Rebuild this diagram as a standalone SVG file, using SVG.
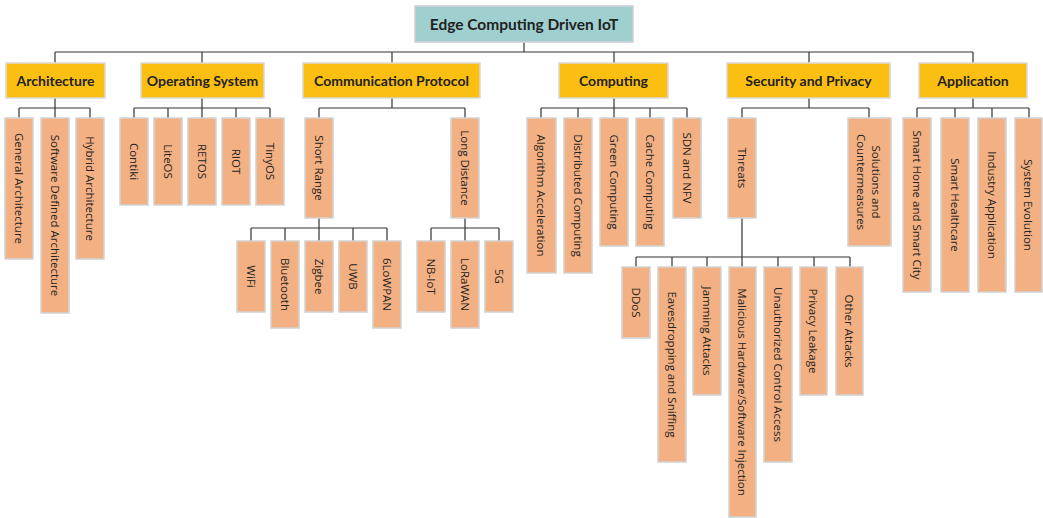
<svg xmlns="http://www.w3.org/2000/svg" width="1043" height="518" viewBox="0 0 1043 518">
<style>
.root{fill:#9fd0cf;stroke:#d0d0d0;stroke-width:1.5}
.cat{fill:#fbbf12;stroke:#d9d9d9;stroke-width:1.5}
.leaf{fill:#f3b183;stroke:#d2d2d2;stroke-width:1.5}
.tr{font-family:Lato,"Liberation Sans",sans-serif;font-weight:bold;font-size:15.5px;fill:#222;text-anchor:middle;dominant-baseline:central}
.tc{font-family:Lato,"Liberation Sans",sans-serif;font-weight:bold;font-size:14px;fill:#222;text-anchor:middle;dominant-baseline:central}
.tl{font-family:"Open Sans","Liberation Sans",sans-serif;font-size:11.5px;fill:#222;text-anchor:middle;dominant-baseline:central}
.conn path{fill:none;stroke:#333;stroke-width:1.2}
</style>
<rect width="1043" height="518" fill="#fff"/>
<g class="conn">
<path d="M524 42V52M55 52H973M55 52V63M202 52V63M392 52V63M614 52V63M809 52V63M973 52V63"/>
<path d="M55 98V108M19 108H90M19 108V118M55 108V118M90 108V118"/>
<path d="M202 98V108M134 108H270M134 108V118M168 108V118M202 108V118M236 108V118M270 108V118"/>
<path d="M392 98V108M319 108H465M319 108V118M465 108V118"/>
<path d="M319 218V228M251 228H387M251 228V241M285 228V241M319 228V241M353 228V241M387 228V241"/>
<path d="M465 218V228M431 228H499M431 228V241M465 228V241M499 228V241"/>
<path d="M614 98V108M541 108H687M541 108V118M578 108V118M614 108V118M650 108V118M687 108V118"/>
<path d="M809 98V108M742 108H869M742 108V118M869 108V118"/>
<path d="M742 218V257M636 257H850M636 257V267M672 257V267M707 257V267M742 257V267M778 257V267M814 257V267M850 257V267"/>
<path d="M973 98V108M917 108H1029M917 108V118M955 108V118M992 108V118M1029 108V118"/>
</g>
<g id="root"><rect class="root" x="415" y="6" width="218" height="36"/><text class="tr" x="524" y="24">Edge Computing Driven IoT</text></g>
<g id="architecture"><rect class="cat" x="6" y="63" width="99" height="35"/><text class="tc" x="55.5" y="80.5">Architecture</text></g>
<g id="os"><rect class="cat" x="141" y="63" width="123" height="35"/><text class="tc" x="202.5" y="80.5">Operating System</text></g>
<g id="comm"><rect class="cat" x="303" y="63" width="177" height="35"/><text class="tc" x="391.5" y="80.5">Communication Protocol</text></g>
<g id="computing"><rect class="cat" x="559" y="63" width="109" height="35"/><text class="tc" x="613.5" y="80.5">Computing</text></g>
<g id="security"><rect class="cat" x="727" y="63" width="163" height="35"/><text class="tc" x="808.5" y="80.5">Security and Privacy</text></g>
<g id="application"><rect class="cat" x="919" y="63" width="108" height="35"/><text class="tc" x="973" y="80.5">Application</text></g>

<g id="general-arch"><rect class="leaf" x="5" y="118" width="28" height="141"/><text class="tl" transform="translate(19 188.5) rotate(90)">General Architecture</text></g>
<g id="sd-arch"><rect class="leaf" x="41" y="118" width="28" height="195"/><text class="tl" transform="translate(55 215.5) rotate(90)">Software Defined Architecture</text></g>
<g id="hybrid-arch"><rect class="leaf" x="76" y="118" width="28" height="141"/><text class="tl" transform="translate(90 188.5) rotate(90)">Hybrid Architecture</text></g>

<g id="contiki"><rect class="leaf" x="120" y="118" width="28" height="87"/><text class="tl" transform="translate(134 161.5) rotate(90)">Contiki</text></g>
<g id="liteos"><rect class="leaf" x="154" y="118" width="28" height="87"/><text class="tl" transform="translate(168 161.5) rotate(90)">LiteOS</text></g>
<g id="retos"><rect class="leaf" x="188" y="118" width="28" height="87"/><text class="tl" transform="translate(202 161.5) rotate(90)">RETOS</text></g>
<g id="riot"><rect class="leaf" x="222" y="118" width="28" height="87"/><text class="tl" transform="translate(236 161.5) rotate(90)">RIOT</text></g>
<g id="tinyos"><rect class="leaf" x="256" y="118" width="28" height="87"/><text class="tl" transform="translate(270 161.5) rotate(90)">TinyOS</text></g>

<g id="short-range"><rect class="leaf" x="305" y="118" width="28" height="100"/><text class="tl" transform="translate(319 168) rotate(90)">Short Range</text></g>
<g id="long-distance"><rect class="leaf" x="451" y="118" width="28" height="100"/><text class="tl" transform="translate(465 168) rotate(90)">Long Distance</text></g>
<g id="wifi"><rect class="leaf" x="237" y="241" width="28" height="71"/><text class="tl" transform="translate(251 276.5) rotate(90)">WiFi</text></g>
<g id="bluetooth"><rect class="leaf" x="271" y="241" width="28" height="87"/><text class="tl" transform="translate(285 284.5) rotate(90)">Bluetooth</text></g>
<g id="zigbee"><rect class="leaf" x="305" y="241" width="28" height="71"/><text class="tl" transform="translate(319 276.5) rotate(90)">Zigbee</text></g>
<g id="uwb"><rect class="leaf" x="339" y="241" width="28" height="71"/><text class="tl" transform="translate(353 276.5) rotate(90)">UWB</text></g>
<g id="6lowpan"><rect class="leaf" x="373" y="241" width="28" height="87"/><text class="tl" transform="translate(387 284.5) rotate(90)">6LoWPAN</text></g>
<g id="nbiot"><rect class="leaf" x="417" y="241" width="28" height="71"/><text class="tl" transform="translate(431 276.5) rotate(90)">NB-IoT</text></g>
<g id="lorawan"><rect class="leaf" x="451" y="241" width="28" height="87"/><text class="tl" transform="translate(465 284.5) rotate(90)">LoRaWAN</text></g>
<g id="5g"><rect class="leaf" x="485" y="241" width="28" height="71"/><text class="tl" transform="translate(499 276.5) rotate(90)">5G</text></g>

<g id="algo-acc"><rect class="leaf" x="527" y="118" width="29" height="155"/><text class="tl" transform="translate(541.5 195.5) rotate(90)">Algorithm Acceleration</text></g>
<g id="dist-comp"><rect class="leaf" x="564" y="118" width="28" height="155"/><text class="tl" transform="translate(578 195.5) rotate(90)">Distributed Computing</text></g>
<g id="green-comp"><rect class="leaf" x="600" y="118" width="28" height="128"/><text class="tl" transform="translate(614 182) rotate(90)">Green Computing</text></g>
<g id="cache-comp"><rect class="leaf" x="636" y="118" width="28" height="128"/><text class="tl" transform="translate(650 182) rotate(90)">Cache Computing</text></g>
<g id="sdn-nfv"><rect class="leaf" x="673" y="118" width="28" height="100"/><text class="tl" transform="translate(687 168) rotate(90)">SDN and NFV</text></g>

<g id="threats"><rect class="leaf" x="728" y="118" width="28" height="100"/><text class="tl" transform="translate(742 168) rotate(90)">Threats</text></g>
<g id="solutions"><rect class="leaf" x="848" y="118" width="43" height="128"/><text class="tl" transform="translate(869.5 182) rotate(90)"><tspan x="0" dy="-7.5">Solutions and</tspan><tspan x="0" dy="15">Countermeasures</tspan></text></g>
<g id="ddos"><rect class="leaf" x="622" y="267" width="28" height="71"/><text class="tl" transform="translate(636 302.5) rotate(90)">DDoS</text></g>
<g id="eaves"><rect class="leaf" x="658" y="267" width="28" height="195"/><text class="tl" transform="translate(672 364.5) rotate(90)">Eavesdropping and Sniffing</text></g>
<g id="jamming"><rect class="leaf" x="693" y="267" width="28" height="128"/><text class="tl" transform="translate(707 331) rotate(90)">Jamming Attacks</text></g>
<g id="malicious"><rect class="leaf" x="729" y="267" width="27" height="250"/><text class="tl" transform="translate(742.5 392) rotate(90)">Malicious Hardware/Software Injection</text></g>
<g id="unauth"><rect class="leaf" x="764" y="267" width="28" height="195"/><text class="tl" transform="translate(778 364.5) rotate(90)">Unauthorized Control Access</text></g>
<g id="privacy"><rect class="leaf" x="800" y="267" width="27" height="128"/><text class="tl" transform="translate(813.5 331) rotate(90)">Privacy Leakage</text></g>
<g id="other"><rect class="leaf" x="836" y="267" width="27" height="128"/><text class="tl" transform="translate(849.5 331) rotate(90)">Other Attacks</text></g>

<g id="smart-home"><rect class="leaf" x="903" y="118" width="28" height="174"/><text class="tl" transform="translate(917 205) rotate(90)">Smart Home and Smart City</text></g>
<g id="smart-health"><rect class="leaf" x="941" y="118" width="28" height="174"/><text class="tl" transform="translate(955 205) rotate(90)">Smart Healthcare</text></g>
<g id="industry"><rect class="leaf" x="978" y="118" width="28" height="174"/><text class="tl" transform="translate(992 205) rotate(90)">Industry Application</text></g>
<g id="sys-evo"><rect class="leaf" x="1015" y="118" width="27" height="174"/><text class="tl" transform="translate(1028.5 205) rotate(90)">System Evolution</text></g>
</svg>
